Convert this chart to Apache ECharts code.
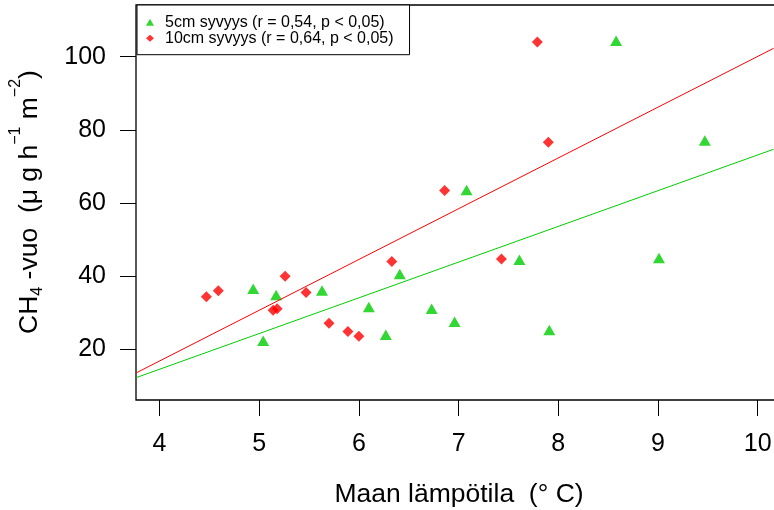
<!DOCTYPE html>
<html>
<head>
<meta charset="utf-8">
<script src="https://cdn.jsdelivr.net/npm/echarts@6/dist/echarts.min.js"></script>
<style>
  html, body { margin: 0; padding: 0; background: #fff; }
  #chart { width: 774px; height: 510px; }
</style>
</head>
<body>
<div id="chart"></div>
<script>
// Axis ticks
const xTicks = [4, 5, 6, 7, 8, 9, 10];
const yTicks = [20, 40, 60, 80, 100];

// 5 cm depth: soil temperature (°C) and CH4 flux
const depth5Temp = [4.94, 5.04, 5.17, 5.63, 6.10, 6.27, 6.41, 6.73, 6.96, 7.08, 7.61, 7.91, 8.58, 9.01, 9.47];
const depth5Flux = [36.1, 21.9, 34.4, 35.6, 31.1, 23.5, 40.1, 30.6, 27.1, 63.1, 44.0, 24.8, 103.9, 44.5, 76.6];

// 10 cm depth: soil temperature (°C) and CH4 flux
const depth10Temp = [4.47, 4.59, 5.14, 5.18, 5.26, 5.47, 5.70, 5.89, 6.00, 6.33, 6.86, 7.43, 7.79, 7.90];
const depth10Flux = [34.4, 36.0, 30.7, 31.1, 40.0, 35.5, 27.1, 24.9, 23.6, 44.0, 63.4, 44.7, 104.0, 76.6];

// Regression lines (end points)
const fit5Line = [[3.77, 12.3], [10.16, 74.7]];
const fit10Line = [[3.77, 13.6], [10.16, 102.3]];

const name5 = '5cm syvyys (r = 0,54, p < 0,05)';
const name10 = '10cm syvyys (r = 0,64, p < 0,05)';

const FONT = '"Liberation Sans", Arial, sans-serif';
const GREEN = '#00CD00';
const RED = '#FF0000';

const zip = (xs, ys) => xs.map((x, i) => [x, ys[i]]);

const chart = echarts.init(document.getElementById('chart'), null, { renderer: 'canvas' });

chart.setOption({
  animation: false,
  backgroundColor: '#fff',
  grid: {
    left: 136, right: -8, top: 5, bottom: 110,
    show: true, borderColor: '#000', borderWidth: 1.3,
    backgroundColor: 'transparent',
    containLabel: false,
    outerBoundsMode: 'none'
  },
  legend: {
    orient: 'vertical',
    left: 137, top: 5,
    data: [{ name: name5, icon: 'triangle' }, { name: name10, icon: 'diamond' }],
    itemWidth: 8, itemHeight: 7, itemGap: 0,
    padding: [9.2, 16, 8.5, 9],
    borderColor: '#000', borderWidth: 1, backgroundColor: '#fff',
    selectedMode: false,
    textStyle: { fontFamily: FONT, fontSize: 16, color: '#000', lineHeight: 12, padding: [3, 0, 0, 6] }
  },
  xAxis: {
    type: 'value', min: 3.7643, max: 10.244,
    axisLine: { show: false },
    splitLine: { show: false },
    axisTick: { show: true, length: 16, customValues: xTicks, lineStyle: { color: '#000', width: 1 } },
    axisLabel: { customValues: xTicks, margin: 31.5, fontSize: 25, color: '#000', fontFamily: FONT },
    name: 'Maan lämpötila  (° C)',
    nameLocation: 'middle', nameGap: 81,
    nameTextStyle: { fontSize: 26.5, color: '#000', fontFamily: FONT }
  },
  yAxis: {
    type: 'value', min: 6.14, max: 114.14,
    axisLine: { show: false },
    splitLine: { show: false },
    axisTick: { show: true, length: 16, customValues: yTicks, lineStyle: { color: '#000', width: 1 } },
    axisLabel: { customValues: yTicks, margin: 30, fontSize: 25, color: '#000', fontFamily: FONT, padding: [5, 0, 0, 0] }
  },
  graphic: [{
    type: 'text',
    x: 29.2, y: 202,
    rotation: Math.PI / 2,
    style: {
      text: '{m|CH}{sub|4}{m| -vuo  (μ g h}{sup|−1}{m| m}{sup|−2}{m|)}',
      align: 'center', verticalAlign: 'middle',
      fill: '#000',
      rich: {
        m: { fontSize: 26.5, fontFamily: FONT, fill: '#000', lineHeight: 26 },
        sub: { fontSize: 16, fontFamily: FONT, fill: '#000', lineHeight: 16, padding: [16, 0, 0, 0] },
        sup: { fontSize: 16, fontFamily: FONT, fill: '#000', lineHeight: 16, padding: [0, 0, 28, 0] }
      }
    }
  }],
  series: [
    {
      name: name5, type: 'scatter',
      data: zip(depth5Temp, depth5Flux),
      symbol: 'triangle', symbolSize: [12, 10.5], symbolOffset: [0, -1.7],
      itemStyle: { color: GREEN }, z: 2
    },
    {
      name: name10, type: 'scatter',
      data: zip(depth10Temp, depth10Flux),
      symbol: 'diamond', symbolSize: [11, 11],
      itemStyle: { color: RED }, z: 2
    },
    {
      name: 'fit5', type: 'line', data: fit5Line,
      showSymbol: false, symbol: 'none', silent: true,
      lineStyle: { color: GREEN, width: 1 }, z: 3
    },
    {
      name: 'fit10', type: 'line', data: fit10Line,
      showSymbol: false, symbol: 'none', silent: true,
      lineStyle: { color: RED, width: 1 }, z: 3
    }
  ]
});
</script>
</body>
</html>
